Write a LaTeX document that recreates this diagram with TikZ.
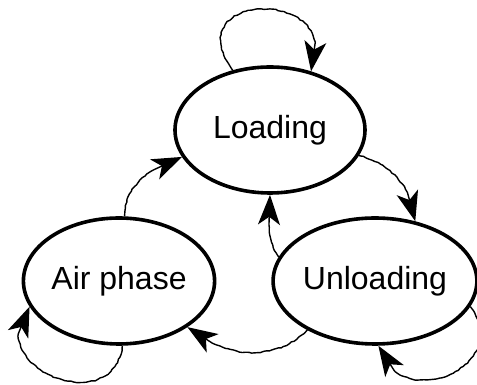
\documentclass[tikz,border=0pt]{standalone}
\usepackage{fontspec}
\setmainfont{Liberation Sans}
\usetikzlibrary{shapes.geometric, arrows.meta, decorations.pathmorphing}

\begin{document}
\begin{tikzpicture}[x=1pt, y=1pt, >={Stealth[length=30pt, width=22pt, inset=8pt]},
    state/.style={ellipse, draw, line width=3.6pt, minimum width=190pt,
        minimum height=126pt, inner sep=0pt, font=\fontsize{32}{38}\selectfont},
    trans/.style={->, line width=1.4pt,
        decorate, decoration={random steps, segment length=3pt, amplitude=.6pt,
        pre length=2pt, post length=30pt}}]
\useasboundingbox (0,0) rectangle (477,385);
\node[state] (load) at (270,255) {Loading};
\node[state] (air) at (119,104) {Air phase};
\node[state] (unload) at (375,104) {Unloading};
% self loops
\draw[trans] (load.122) .. controls +(-58,80) and +(35,85) .. (load.55);
\draw[trans] (air.-87) .. controls +(-10,-75) and +(-50,-60) .. (air.196);
\draw[trans] (unload.-15) .. controls +(45,-60) and +(20,-70) .. (unload.-87);
% between the phases
\draw[trans] (load.-16) to[out=-15, in=95] (unload.56);
\draw[trans] (unload.166) to[out=125, in=-90] (load.-90);
\draw[trans] (unload.216) to[out=-135, in=-40] (air.-34);
\draw[trans] (air.85) to[out=90, in=200] (load.197);
\end{tikzpicture}
\end{document}
